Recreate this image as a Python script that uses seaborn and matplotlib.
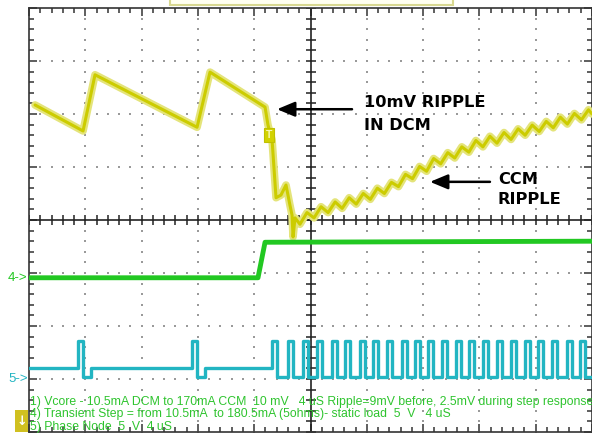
import numpy as np
import pandas as pd
import matplotlib
matplotlib.use("Agg")
import matplotlib.pyplot as plt
from matplotlib.patches import Rectangle
import seaborn as sns

# time in microseconds (4 us/div), amplitude in screen divisions (0 = centre line)
vcore_t = [0.43, 3.84, 4.69, 11.94, 12.86, 16.77, 16.98, 17.27, 17.55, 17.90, 18.26, 18.54,
           18.69, 18.76, 18.90,
           19.25, 19.75, 20.25, 20.75, 21.25, 21.75, 22.25, 22.75, 23.25, 23.75, 24.25, 24.75,
           25.25, 25.75, 26.25, 26.75, 27.25, 27.75, 28.25, 28.75, 29.25, 29.75, 30.25, 30.75,
           31.25, 31.75, 32.25, 32.75, 33.25, 33.75, 34.25, 34.75, 35.25, 35.75, 36.25, 36.75,
           37.25, 37.75, 38.25, 38.75, 39.25, 39.75, 40.0]
vcore_y = [2.17, 1.68, 2.74, 1.75, 2.79, 2.13, 1.79, 1.51, 0.42, 0.47, 0.66, 0.28,
           0.09, -0.32, 0.04,
           -0.08, 0.14, 0.04, 0.25, 0.14, 0.34, 0.22, 0.42, 0.30, 0.50, 0.39, 0.60,
           0.50, 0.71, 0.63, 0.86, 0.78, 1.01, 0.92, 1.16, 1.06, 1.27, 1.17, 1.38,
           1.28, 1.50, 1.38, 1.58, 1.45, 1.65, 1.52, 1.72, 1.60, 1.79, 1.67, 1.86,
           1.74, 1.94, 1.81, 2.01, 1.89, 2.08, 2.00]

step_t = [0.0, 16.27, 16.77, 40.0]
step_y = [-1.09, -1.09, -0.42, -0.40]

# phase node: rising edges
phase_dcm_on = [3.48, 11.58]
phase_ccm_on = [17.27, 18.40, 19.47, 20.46, 21.53, 22.45, 23.52, 24.44, 25.44, 26.50, 27.43,
                28.35, 29.34, 30.34, 31.26, 32.26, 33.25, 34.25, 35.24, 36.16, 37.16, 38.23, 39.15]
phase_idle, phase_high, phase_low = -2.79, -2.28, -2.96
pulse_w, dcm_dip = 0.38, 0.57

legend_lines = [
    "1) Vcore - 10.5mA DCM to 170mA CCM  10 mV   4 uS Ripple=9mV before, 2.5mV during step response",
    "4) Transient Step = from 10.5mA  to 180.5mA (5ohms)- static load  5  V   4 uS",
    "5) Phase Node  5  V  4 uS",
]

# build phase node trace from edges
ph_t, ph_y = [0.0], [phase_idle]
for on in phase_dcm_on:
    ph_t += [on, on, on + pulse_w, on + pulse_w, on + pulse_w + dcm_dip, on + pulse_w + dcm_dip]
    ph_y += [phase_idle, phase_high, phase_high, phase_low, phase_low, phase_idle]
prev = phase_idle
for on in phase_ccm_on:
    ph_t += [on, on, on + pulse_w, on + pulse_w]
    ph_y += [prev, phase_high, phase_high, phase_low]
    prev = phase_low
ph_t.append(40.0)
ph_y.append(phase_low)

vcore = pd.DataFrame({"t": vcore_t, "v": vcore_y})
step = pd.DataFrame({"t": step_t, "v": step_y})
phase = pd.DataFrame({"t": ph_t, "v": ph_y})

sns.set_style("white")
plt.rcParams["font.family"] = ["Liberation Sans", "DejaVu Sans"]

fig = plt.figure(figsize=(5.92, 4.36), dpi=100)
ax = fig.add_axes([29 / 592, 4 / 436, 563 / 592, 424 / 436])
ax.set_xlim(0, 40)
ax.set_ylim(-4, 4)

# graticule dots
gx = [4, 8, 12, 16, 24, 28, 32, 36]
gy = [-3, -2, -1, 1, 2, 3]
dx, dy = np.meshgrid(gx, np.arange(-4, 4.01, 0.2))
ax.scatter(dx.ravel(), dy.ravel(), s=1.5, color="#9a9a9a", marker="s", linewidths=0, zorder=1)
hx, hy = np.meshgrid(np.arange(0, 40.01, 0.8), gy)
ax.scatter(hx.ravel(), hy.ravel(), s=1.5, color="#9a9a9a", marker="s", linewidths=0, zorder=1)

# centre cross with ticks
ax.axhline(0, color="#222222", lw=1.2, zorder=2)
ax.axvline(20, color="#222222", lw=1.2, zorder=2)
cx = np.arange(0, 40.01, 0.8)
ax.plot(cx, np.zeros_like(cx), ls="none", marker="|", ms=7, mew=1.1, color="#222222", zorder=2)
cy = np.arange(-4, 4.01, 0.2)
ax.plot(np.full_like(cy, 20), cy, ls="none", marker="_", ms=7, mew=1.1, color="#222222", zorder=2)

# traces
sns.lineplot(data=vcore, x="t", y="v", sort=False, estimator=None, color="#e4e47a", lw=5.5, ax=ax, zorder=3)
sns.lineplot(data=vcore, x="t", y="v", sort=False, estimator=None, color="#cccc00", lw=2.2, ax=ax, zorder=4)
sns.lineplot(data=step, x="t", y="v", sort=False, estimator=None, color="#22c822", lw=3.5, ax=ax, zorder=4)
sns.lineplot(data=phase, x="t", y="v", sort=False, estimator=None, color="#22b5c2", lw=2.4, ax=ax, zorder=4)

# trigger marker on Vcore
ax.text(17.05, 1.60, "T", fontsize=7.5, fontweight="bold", color="#f6f6b0", ha="center", va="center",
        bbox=dict(boxstyle="square,pad=0.2", fc="#d2d200", ec="#c0c000", lw=0.8), zorder=5)

# channel markers
ax.text(-0.1, -1.09, "4->", color="#22c822", fontsize=9.5, ha="right", va="center", clip_on=False)
ax.text(-0.1, -3.0, "5->", color="#22b5c2", fontsize=9.5, ha="right", va="center", clip_on=False)

# annotations
arrow = dict(arrowstyle="-|>,head_length=0.6,head_width=0.25", color="black", lw=1.8,
             mutation_scale=18, shrinkA=0, shrinkB=0)
ax.annotate("", xy=(17.62, 2.09), xytext=(22.95, 2.09), arrowprops=arrow, zorder=6)
ax.annotate("", xy=(28.49, 0.72), xytext=(32.75, 0.72), arrowprops=arrow, zorder=6)
bold = dict(fontsize=11.7, fontweight="heavy", family="DejaVu Sans", color="black",
            va="baseline", zorder=6)
ax.text(23.80, 2.13, "10mV RIPPLE", **bold)
ax.text(23.80, 1.70, "IN DCM", **bold)
ax.text(33.32, 0.68, "CCM", **bold)
ax.text(33.32, 0.30, "RIPPLE", **bold)

# scope info lines
for yy, line in zip([0.071, 0.042, 0.012], legend_lines):
    ax.text(0.002, yy, line, transform=ax.transAxes, color="#2ec42e", fontsize=8.8,
            ha="left", va="center", zorder=6, clip_on=False)

# frame and ticks
ax.set_xticks(np.arange(0, 40.01, 4))
ax.set_xticks(np.arange(0, 40.01, 0.8), minor=True)
ax.set_yticks(np.arange(-4, 4.01, 1))
ax.set_yticks(np.arange(-4, 4.01, 0.2), minor=True)
ax.tick_params(which="both", direction="in", top=True, right=True, bottom=True, left=True,
               labelbottom=False, labelleft=False, color="#333333", width=1.1)
ax.tick_params(which="major", length=6)
ax.tick_params(which="minor", length=3.5)
ax.set_xlabel("")
ax.set_ylabel("")
for s in ax.spines.values():
    s.set_color("#333333")
    s.set_linewidth(1.2)

# record bar at top and scroll marker at bottom left
fig.patches.append(Rectangle((170 / 592, 431 / 436), 283 / 592, 0.05, transform=fig.transFigure,
                             fc="#fffff0", ec="#d8d890", lw=1.5))
fig.patches.append(Rectangle((15 / 592, 4 / 436), 13 / 592, 22 / 436, transform=fig.transFigure,
                             fc="#d0c020", ec="none"))
fig.text(21.5 / 592, 15 / 436, "↓", color="white", fontsize=9, fontweight="bold",
         ha="center", va="center", family="DejaVu Sans")

fig.savefig("out.png", dpi=100)
